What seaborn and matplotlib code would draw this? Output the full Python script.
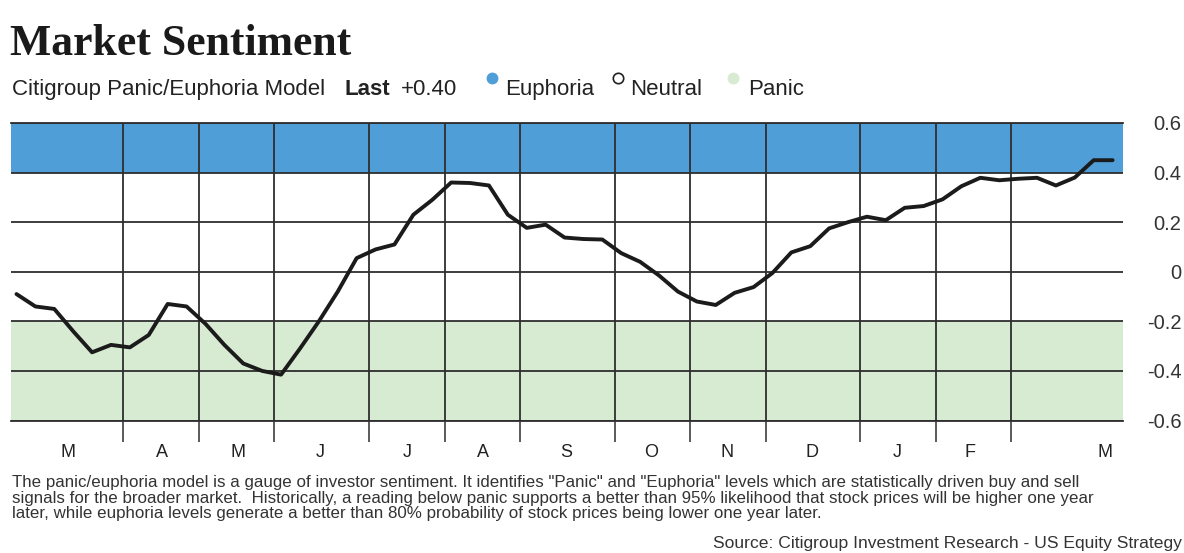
import matplotlib
matplotlib.use("Agg")
import matplotlib.pyplot as plt
import seaborn as sns
import pandas as pd
from matplotlib.ticker import FixedLocator, FuncFormatter, NullFormatter

# weekly readings of the Citigroup panic/euphoria model
sentiment = [-0.09, -0.14, -0.15, -0.24, -0.325, -0.295, -0.305, -0.255, -0.13, -0.14,
             -0.21, -0.295, -0.37, -0.40, -0.415, -0.31, -0.20, -0.08, 0.055, 0.09,
             0.11, 0.23, 0.29, 0.36, 0.358, 0.348, 0.23, 0.177, 0.19, 0.138,
             0.132, 0.13, 0.075, 0.04, -0.015, -0.08, -0.12, -0.134, -0.085, -0.062,
             -0.005, 0.078, 0.103, 0.175, 0.2, 0.222, 0.208, 0.258, 0.265, 0.292,
             0.345, 0.379, 0.369, 0.375, 0.379, 0.348, 0.38, 0.45, 0.45]

# month boundaries and label spots, in weeks from the first reading
month_edges = [5.65, 9.65, 13.65, 18.65, 22.65, 26.65, 31.65, 35.65, 39.65, 44.65, 48.65, 52.65]
month_labels = ["M", "A", "M", "J", "J", "A", "S", "O", "N", "D", "J", "F", "M"]
month_label_pos = [2.72, 7.7, 11.72, 16.06, 20.66, 24.68, 29.07, 33.57, 37.59, 42.1, 46.59, 50.45, 57.59]

y_ticks = [-0.6, -0.4, -0.2, 0, 0.2, 0.4, 0.6]
euphoria_level = 0.4
panic_level = -0.2

footnote = [
    'The panic/euphoria model is a gauge of investor sentiment. It identifies "Panic" and "Euphoria" levels which are statistically driven buy and sell',
    'signals for the broader market.  Historically, a reading below panic supports a better than 95% likelihood that stock prices will be higher one year',
    'later, while euphoria levels generate a better than 80% probability of stock prices being lower one year later.',
]
source = "Source: Citigroup Investment Research - US Equity Strategy"

BLUE = "#4f9ed8"
GREEN = "#d7ebd3"
GRID = "#2e2e2e"
INK = "#222222"

sns.set_theme(style="white")
plt.rcParams["font.family"] = ["Liberation Sans", "DejaVu Sans"]

W, H = 1184, 553
fig = plt.figure(figsize=(W / 100, H / 100), dpi=100)

# main plot area (pixel box 11..1123 x 123..420)
ax = fig.add_axes([11 / W, 1 - 420.5 / H, 1112 / W, 297.5 / H])
df = pd.DataFrame({"week": range(len(sentiment)), "sentiment": sentiment})

ax.axhspan(euphoria_level, 0.6, color=BLUE, zorder=0.5, lw=0)
ax.axhspan(-0.6, panic_level, color=GREEN, zorder=0.5, lw=0)
sns.lineplot(data=df, x="week", y="sentiment", ax=ax, color="#1b1b1b", linewidth=2.8, zorder=3)

ax.set_xlim(-0.29, 58.55)
ax.set_ylim(-0.6, 0.6)
ax.set_axisbelow("line")

ax.xaxis.set_major_locator(FixedLocator(month_edges))
ax.xaxis.set_major_formatter(NullFormatter())
ax.xaxis.set_minor_locator(FixedLocator(month_label_pos))
ax.xaxis.set_minor_formatter(FuncFormatter(lambda v, i: month_labels[i]))
ax.tick_params(axis="x", which="major", direction="out", length=15, width=1.1, color=GRID, bottom=True)
ax.tick_params(axis="x", which="minor", length=0, pad=17, labelsize=13, labelcolor=INK, bottom=True)

ax.yaxis.tick_right()
ax.set_yticks(y_ticks)
ax.yaxis.set_major_formatter(FuncFormatter(lambda v, i: "0" if abs(v) < 1e-9 else f"{v:.1f}"))
ax.tick_params(axis="y", length=0, pad=42, labelsize=14.5, labelcolor="#333333")
plt.setp(ax.get_yticklabels(), ha="right")

ax.grid(True, axis="both", which="major", color=GRID, linewidth=1.3)
for side in ["left", "right"]:
    ax.spines[side].set_visible(False)
for side in ["top", "bottom"]:
    ax.spines[side].set_color(GRID)
    ax.spines[side].set_linewidth(1.3)
ax.set_xlabel("")
ax.set_ylabel("")

# overlay in pixel coordinates for the header and the notes
ov = fig.add_axes([0, 0, 1, 1], zorder=-1)
ov.set_xlim(0, W)
ov.set_ylim(H, 0)
ov.axis("off")

ov.text(10, 55, "Market Sentiment", fontsize=31.5, fontweight="bold", color="#1a1a1a",
        family=["Liberation Serif", "DejaVu Serif"], va="baseline")

sub_y = 95
sub_size = 16
ov.text(12, sub_y, "Citigroup Panic/Euphoria Model", fontsize=sub_size, color=INK, va="baseline")
ov.text(345, sub_y, "Last", fontsize=sub_size, fontweight="bold", color=INK, va="baseline")
ov.text(401, sub_y, "+0.40", fontsize=sub_size, color=INK, va="baseline")
ov.plot([492], [78], "o", ms=7.5, color=BLUE, mec=BLUE)
ov.text(505, sub_y, "Euphoria", fontsize=sub_size, color=INK, va="baseline")
ov.plot([618], [78], "o", ms=7.5, mfc="white", mec=INK, mew=1.2)
ov.text(630, sub_y, "Neutral", fontsize=sub_size, color=INK, va="baseline")
ov.plot([733], [78], "o", ms=7.5, color=GREEN, mec=GREEN)
ov.text(748, sub_y, "Panic", fontsize=sub_size, color=INK, va="baseline")

for k, line in enumerate(footnote):
    ov.text(12, 487 + 15.5 * k, line, fontsize=12.2, color="#333333", va="baseline")
ov.text(1182, 548, source, fontsize=12.6, color="#333333", va="baseline", ha="right")

fig.savefig("out.png", dpi=100, facecolor="white")
